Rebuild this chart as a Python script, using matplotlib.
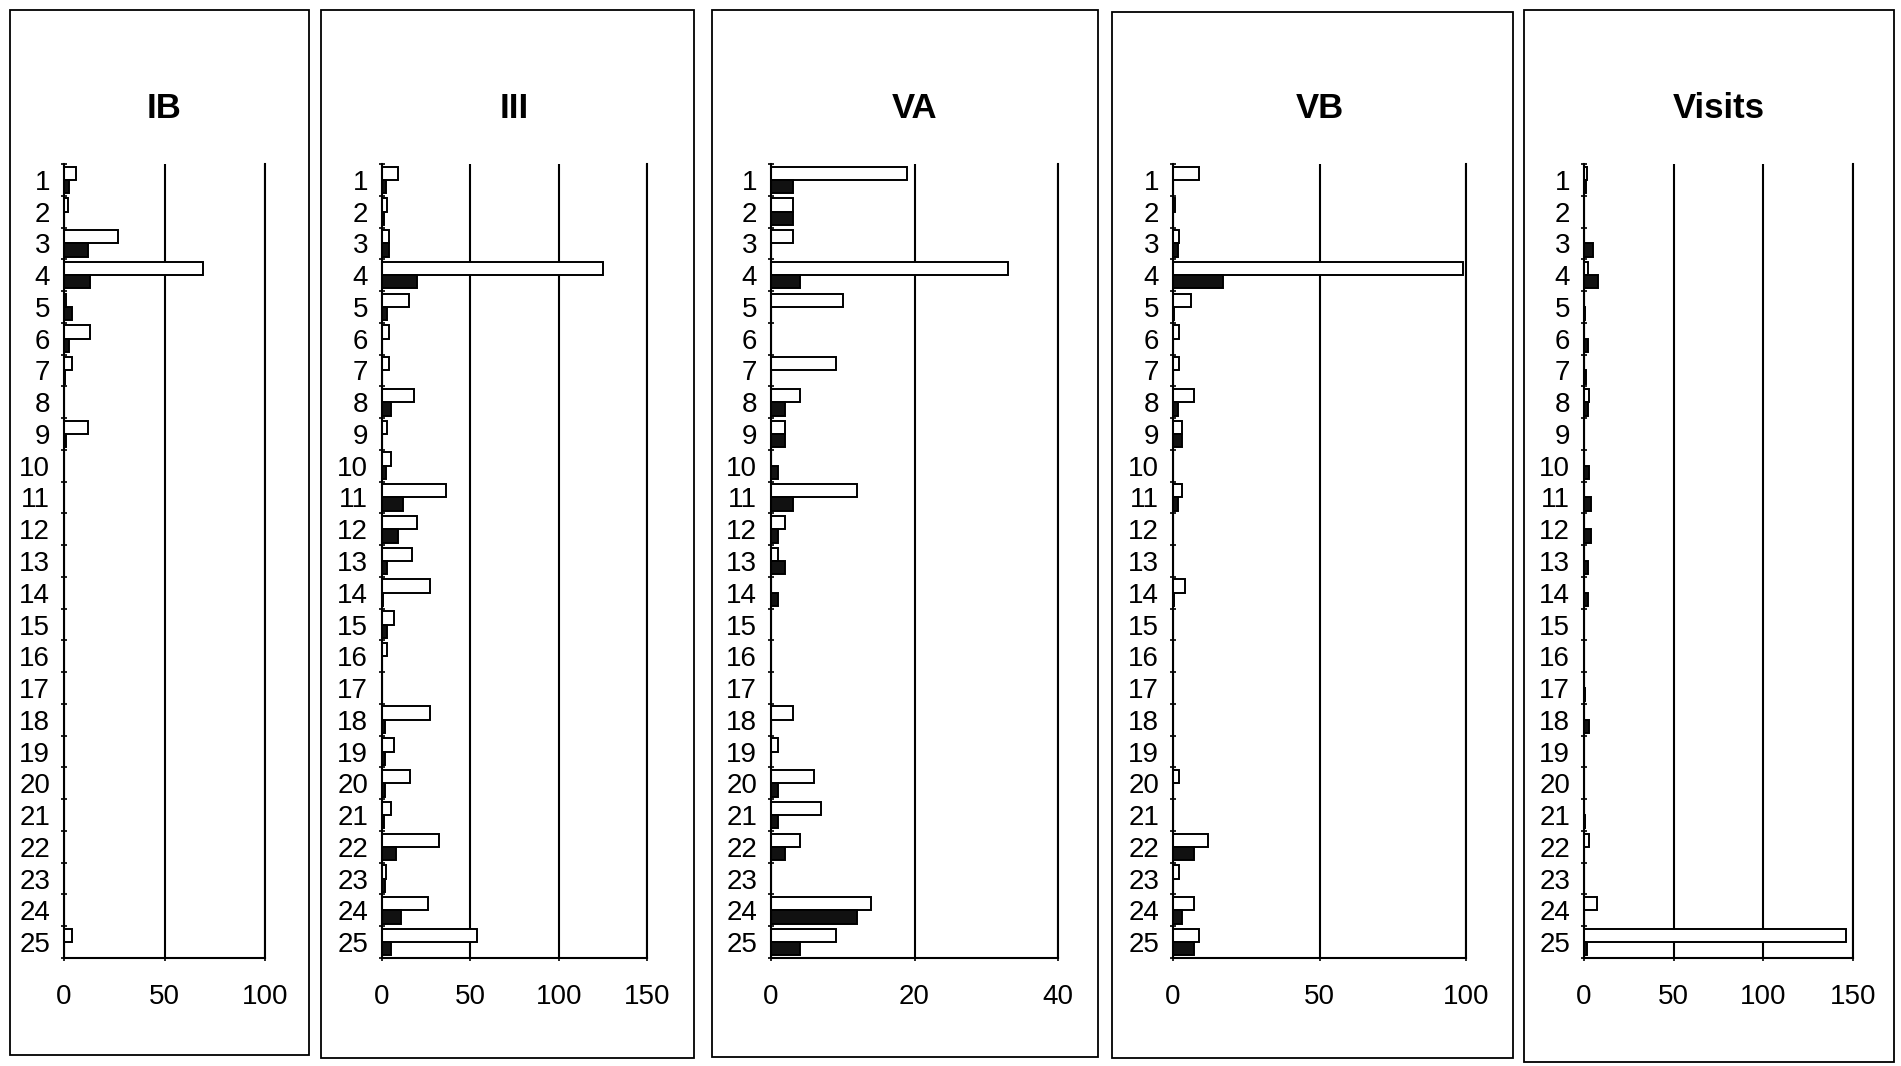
"""
Five side-by-side horizontal bar panels (IB, III, VA, VB, Visits), 25 rows each,
two series per row (open bar on top, filled bar below).
Writes out.png (1901x1066).
"""
import numpy as np
import matplotlib
matplotlib.use("Agg")
import matplotlib.pyplot as plt
from matplotlib.patches import Rectangle
from matplotlib import transforms

plt.rcParams.update({
    "font.family": ["Liberation Sans", "DejaVu Sans"],
    "font.size": 20,
})

# ----------------------------- data -----------------------------------------
categories = list(range(1, 26))

ib_open = [6, 2, 27, 69, 1, 13, 4, 0, 12, 0, 0, 0, 0, 0, 0, 0, 0, 0, 0, 0, 0, 0, 0, 0, 4]
ib_fill = [2.5, 0, 12, 13, 4, 2.5, 0.5, 0, 1, 0, 0, 0, 0, 0, 0, 0, 0, 0, 0, 0, 0, 0, 0, 0, 0]

iii_open = [9, 3, 4, 125, 15, 4, 4, 18, 3, 5, 36, 20, 17, 27, 7, 3, 0, 27, 7, 16, 5, 32, 2, 26, 54]
iii_fill = [2, 1, 4, 20, 3, 0, 0, 5, 0, 2.5, 12, 9, 3, 0.6, 3, 0, 0, 1.5, 1.5, 1.5, 1, 8, 1.5, 11, 5]

va_open = [19, 3, 3, 33, 10, 0, 9, 4, 2, 0, 12, 2, 1, 0, 0, 0, 0, 3, 1, 6, 7, 4, 0, 14, 9]
va_fill = [3, 3, 0, 4, 0, 0, 0, 2, 2, 1, 3, 1, 2, 1, 0, 0, 0, 0, 0, 1, 1, 2, 0, 12, 4]

vb_open = [9, 0.6, 2, 99, 6, 2, 2, 7, 3, 0, 3, 0, 0, 4, 0, 0, 0, 0, 0, 2, 0, 12, 2, 7, 9]
vb_fill = [0, 0, 1.7, 17, 0.3, 0, 0, 1.7, 3, 0, 1.8, 0, 0, 0.3, 0, 0, 0, 0, 0, 0, 0, 7, 0, 3, 7]

visits_open = [1.5, 0, 0, 2, 0, 0, 0, 3, 0, 0, 0, 0, 0, 0, 0, 0, 0, 0, 0, 0, 0, 2.6, 0, 7, 146]
visits_fill = [1, 0, 5, 8, 0.5, 2, 1, 2, 0, 3, 3.7, 3.7, 2.2, 2.4, 0, 0, 0.3, 2.6, 0, 0, 0.4, 0, 0, 0, 1.7]

titles = ["IB", "III", "VA", "VB", "Visits"]
series = [(ib_open, ib_fill), (iii_open, iii_fill), (va_open, va_fill),
          (vb_open, vb_fill), (visits_open, visits_fill)]
xmax = [100, 150, 40, 100, 150]
xstep = [50, 50, 20, 50, 50]

# ----------------------------- layout (pixels) ------------------------------
W, H = 1901, 1066
axes_x = [(64, 265), (382, 647), (771, 1058), (1173, 1466), (1584, 1853)]
axes_y = (164, 958)  # top, bottom
boxes = [(10, 309, 10, 1055), (321, 694, 10, 1058), (712, 1098, 10, 1057),
         (1112, 1513, 12, 1058), (1524, 1894, 10, 1062)]

fig = plt.figure(figsize=(W / 100, H / 100), dpi=100)
fig.patch.set_facecolor("white")

for (bx0, bx1, by0, by1) in boxes:
    fig.patches.append(Rectangle((bx0 / W, 1 - by1 / H), (bx1 - bx0) / W,
                                 (by1 - by0) / H, transform=fig.transFigure,
                                 fill=False, edgecolor="black", lw=1.3))

y = np.arange(1, 26)
h = 0.42
for i, title in enumerate(titles):
    x0, x1 = axes_x[i]
    ax = fig.add_axes([x0 / W, 1 - axes_y[1] / H, (x1 - x0) / W,
                       (axes_y[1] - axes_y[0]) / H])
    op, fl = series[i]
    ax.barh(y - h / 2, op, height=h, color="white", edgecolor="black", lw=1.4)
    ax.barh(y + h / 2, fl, height=h, color="#111111", edgecolor="black", lw=1.4)

    ax.set_xlim(0, xmax[i])
    ax.set_ylim(25.5, 0.5)
    ax.set_xticks(np.arange(0, xmax[i] + 1, xstep[i]))
    ax.set_yticks(y)
    ax.set_yticklabels([str(c) for c in categories])
    ax.set_yticks(np.arange(0.5, 26, 1), minor=True)
    ax.tick_params(axis="y", which="major", length=0, pad=10)
    ax.tick_params(axis="y", which="minor", length=5, direction="inout", width=1.2)
    ax.tick_params(axis="x", length=5, direction="inout", pad=16, width=1.2)
    ax.grid(axis="x", color="black", lw=1.5)
    ax.set_axisbelow(True)
    ax.spines["top"].set_visible(False)
    for s in ("left", "bottom", "right"):
        ax.spines[s].set_linewidth(1.5)

    tr = transforms.blended_transform_factory(ax.transAxes, fig.transFigure)
    ax.text(0.5, 1 - 109 / H, title, transform=tr, ha="center", va="center",
            fontsize=25, fontweight="bold")

fig.savefig("out.png", dpi=100)
